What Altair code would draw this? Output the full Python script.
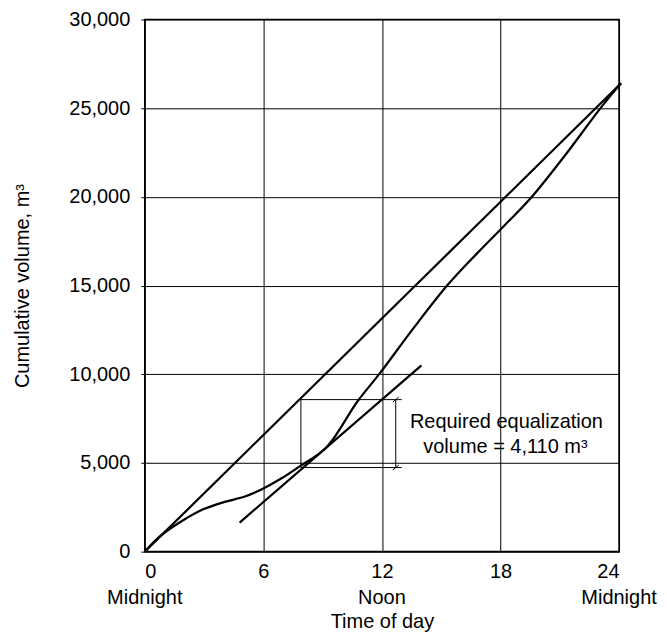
import altair as alt
import pandas as pd

# ---- data ----
curve_hours = [0, 0.75, 1.9, 2.9, 4.0, 5.1, 6.0, 6.9, 7.8, 9.2, 10.75, 11.9, 13.6, 15.3, 16.8, 18.2, 19.5, 21.3, 23.1, 24.1]
curve_volume = [0, 850, 1740, 2360, 2790, 3120, 3560, 4120, 4780, 5890, 8450, 10060, 12600, 15000, 16800, 18390, 19890, 22390, 25060, 26400]

avg_hours = [0, 24.1]
avg_volume = [0, 26400]

tangent_hours = [4.8, 14.0]
tangent_volume = [1640, 10500]

# equalization box segments (id, hour, volume)
box_ids = ["top", "top", "bottom", "bottom", "left", "left", "dim", "dim", "arrow_top", "arrow_top", "arrow_bot", "arrow_bot"]
box_hours = [7.9, 13.0, 7.9, 13.0, 7.9, 7.9, 12.7, 12.7, 12.55, 12.85, 12.55, 12.85]
box_volume = [8570, 8570, 4740, 4740, 4740, 8570, 4740, 8570, 8430, 8710, 4600, 4880]

note_lines = ["Required  equalization", "volume = 4,110 m³"]
note_hours = [18.3, 18.25]
note_volume = [7280, 5880]

x_ticks = [0, 6, 12, 18, 24]
x_names_hours = [0, 12, 24]
x_names = ["Midnight", "Noon", "Midnight"]
y_ticks = [0, 5000, 10000, 15000, 20000, 25000, 30000]

W, H = 475, 533
FONT = "Liberation Sans"
FS = 20

xs = alt.Scale(domain=[0, 24], nice=False)
ys = alt.Scale(domain=[0, 30000], nice=False)

curve_df = pd.DataFrame({"h": curve_hours, "v": curve_volume})
avg_df = pd.DataFrame({"h": avg_hours, "v": avg_volume})
tan_df = pd.DataFrame({"h": tangent_hours, "v": tangent_volume})
box_df = pd.DataFrame({"id": box_ids, "h": box_hours, "v": box_volume})
note_df = pd.DataFrame({"t": note_lines, "h": note_hours, "v": note_volume})
names_df = pd.DataFrame({"h": x_names_hours, "t": x_names})

x_axis = alt.Axis(values=x_ticks, title="Time of day", grid=True, gridColor="black",
                  gridOpacity=1, gridWidth=1, domain=False, tickColor="black", tickSize=0,
                  labelFontSize=FS, labelColor="black", labelPadding=10, labelFont=FONT,
                  titleFont=FONT, titleFontSize=FS, titleFontWeight="normal", titleColor="black",
                  titlePadding=30)
y_axis = alt.Axis(values=y_ticks, format=",.0f", title="Cumulative volume, m³", grid=True,
                  gridColor="black", gridOpacity=1, gridWidth=1, domain=False,
                  tickColor="black", tickSize=4, labelFontSize=FS, labelColor="black",
                  labelPadding=11, labelFont=FONT, titleFont=FONT, titleFontSize=FS,
                  titleFontWeight="normal", titleColor="black", titlePadding=36)

base_x = alt.X("h:Q", scale=xs, axis=x_axis)
base_y = alt.Y("v:Q", scale=ys, axis=y_axis)

curve = alt.Chart(curve_df).mark_line(color="black", strokeWidth=2.2, interpolate="catmull-rom").encode(
    x=base_x, y=base_y)
avg = alt.Chart(avg_df).mark_line(color="black", strokeWidth=2.2).encode(
    x=alt.X("h:Q", scale=xs), y=alt.Y("v:Q", scale=ys))
tan = alt.Chart(tan_df).mark_line(color="black", strokeWidth=2.2).encode(
    x=alt.X("h:Q", scale=xs), y=alt.Y("v:Q", scale=ys))
box = alt.Chart(box_df).mark_line(color="black", strokeWidth=1).encode(
    x=alt.X("h:Q", scale=xs), y=alt.Y("v:Q", scale=ys), detail="id:N")
note = alt.Chart(note_df).mark_text(font=FONT, fontSize=FS, color="black", align="center",
                                     baseline="middle").encode(
    x=alt.X("h:Q", scale=xs), y=alt.Y("v:Q", scale=ys), text="t:N")
names = alt.Chart(names_df).mark_text(font=FONT, fontSize=FS, color="black", align="center",
                                       baseline="middle").encode(
    x=alt.X("h:Q", scale=xs), y=alt.value(H + 46), text="t:N")

chart = alt.layer(curve, avg, tan, box, note, names).properties(
    width=W, height=H,
    autosize=alt.AutoSizeParams(type="none"),
    padding={"left": 137, "top": 11, "right": 40, "bottom": 80},
    background="white",
).configure_view(stroke="black", strokeWidth=1.6)

chart.save("out.html", embed_options={"renderer": "svg", "actions": False})
